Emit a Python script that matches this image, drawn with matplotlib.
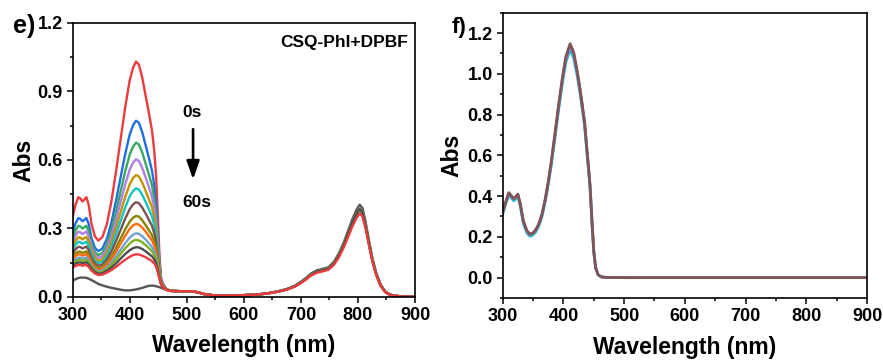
import numpy as np
import matplotlib
matplotlib.use("Agg")
import matplotlib.pyplot as plt
from matplotlib.ticker import MultipleLocator, FormatStrFormatter

plt.rcParams['font.family'] = ['Liberation Sans', 'DejaVu Sans']
plt.rcParams['font.weight'] = 'bold'
plt.rcParams['axes.labelweight'] = 'bold'

# ---------------- panel e: CSQ-PhI + DPBF, irradiation 0-60 s ----------------
wl_head = [300, 305, 310, 314, 317, 320, 324, 328, 333, 339, 345, 352, 360, 368,
           376, 384, 392, 400, 406, 411, 416, 422, 428, 434, 439, 443, 446, 449,
           452, 455, 459, 464, 470]

abs_0s = [0.350, 0.405, 0.437, 0.430, 0.418, 0.425, 0.437, 0.405, 0.320, 0.265, 0.247,
          0.262, 0.320, 0.420, 0.550, 0.690, 0.830, 0.950, 1.005, 1.031, 1.018, 0.960,
          0.880, 0.800, 0.730, 0.640, 0.540, 0.370, 0.190, 0.080, 0.055, 0.036, 0.028]
abs_5s = [0.282, 0.322, 0.346, 0.341, 0.332, 0.337, 0.346, 0.321, 0.257, 0.215, 0.201,
          0.212, 0.255, 0.327, 0.422, 0.524, 0.625, 0.712, 0.753, 0.772, 0.763, 0.721,
          0.663, 0.605, 0.554, 0.489, 0.416, 0.290, 0.156, 0.072, 0.050, 0.035, 0.028]
abs_10s = [0.257, 0.292, 0.312, 0.308, 0.300, 0.305, 0.312, 0.290, 0.234, 0.197, 0.183,
           0.193, 0.230, 0.293, 0.374, 0.462, 0.549, 0.624, 0.659, 0.676, 0.668, 0.632,
           0.583, 0.533, 0.489, 0.432, 0.369, 0.261, 0.144, 0.069, 0.049, 0.034, 0.028]
abs_15s = [0.237, 0.269, 0.286, 0.283, 0.276, 0.280, 0.287, 0.267, 0.217, 0.183, 0.170,
           0.179, 0.212, 0.267, 0.338, 0.415, 0.492, 0.558, 0.589, 0.603, 0.596, 0.565,
           0.522, 0.478, 0.439, 0.390, 0.335, 0.238, 0.134, 0.067, 0.048, 0.034, 0.028]
abs_20s = [0.219, 0.247, 0.262, 0.259, 0.252, 0.257, 0.263, 0.244, 0.200, 0.170, 0.158,
           0.165, 0.195, 0.242, 0.304, 0.371, 0.437, 0.494, 0.521, 0.534, 0.528, 0.501,
           0.464, 0.426, 0.393, 0.350, 0.301, 0.217, 0.125, 0.065, 0.047, 0.034, 0.028]
abs_25s = [0.204, 0.228, 0.242, 0.239, 0.233, 0.237, 0.242, 0.225, 0.186, 0.158, 0.148,
           0.154, 0.180, 0.221, 0.275, 0.333, 0.391, 0.441, 0.465, 0.476, 0.471, 0.447,
           0.415, 0.382, 0.353, 0.316, 0.274, 0.199, 0.118, 0.064, 0.046, 0.033, 0.028]
abs_30s = [0.188, 0.209, 0.220, 0.218, 0.213, 0.216, 0.221, 0.206, 0.171, 0.147, 0.137,
           0.142, 0.165, 0.200, 0.245, 0.294, 0.343, 0.385, 0.406, 0.415, 0.411, 0.391,
           0.365, 0.336, 0.312, 0.280, 0.244, 0.180, 0.110, 0.062, 0.045, 0.033, 0.028]
abs_35s = [0.172, 0.190, 0.199, 0.198, 0.193, 0.196, 0.200, 0.186, 0.157, 0.135, 0.126,
           0.131, 0.149, 0.178, 0.215, 0.256, 0.296, 0.330, 0.347, 0.355, 0.352, 0.336,
           0.314, 0.291, 0.271, 0.245, 0.216, 0.162, 0.102, 0.060, 0.044, 0.033, 0.027]
abs_40s = [0.163, 0.179, 0.187, 0.186, 0.181, 0.184, 0.188, 0.175, 0.148, 0.129, 0.120,
           0.124, 0.141, 0.166, 0.198, 0.234, 0.268, 0.298, 0.314, 0.320, 0.317, 0.304,
           0.286, 0.265, 0.248, 0.225, 0.199, 0.151, 0.097, 0.059, 0.043, 0.033, 0.027]
abs_45s = [0.152, 0.165, 0.172, 0.172, 0.168, 0.170, 0.173, 0.162, 0.138, 0.121, 0.112,
           0.116, 0.130, 0.151, 0.178, 0.207, 0.236, 0.260, 0.273, 0.279, 0.277, 0.266,
           0.251, 0.234, 0.219, 0.201, 0.179, 0.138, 0.092, 0.058, 0.042, 0.032, 0.027]
abs_50s = [0.145, 0.156, 0.162, 0.162, 0.158, 0.160, 0.163, 0.152, 0.131, 0.115, 0.107,
           0.110, 0.123, 0.141, 0.163, 0.189, 0.213, 0.234, 0.246, 0.250, 0.248, 0.239,
           0.227, 0.213, 0.200, 0.184, 0.165, 0.130, 0.088, 0.057, 0.041, 0.032, 0.027]
abs_55s = [0.136, 0.146, 0.151, 0.151, 0.147, 0.150, 0.152, 0.142, 0.124, 0.109, 0.102,
           0.104, 0.115, 0.129, 0.147, 0.168, 0.188, 0.205, 0.214, 0.218, 0.217, 0.210,
           0.200, 0.188, 0.178, 0.165, 0.150, 0.120, 0.084, 0.056, 0.041, 0.032, 0.027]
abs_60s = [0.128, 0.136, 0.140, 0.140, 0.137, 0.139, 0.141, 0.132, 0.116, 0.103, 0.096,
           0.098, 0.107, 0.118, 0.132, 0.148, 0.163, 0.176, 0.184, 0.187, 0.186, 0.181,
           0.174, 0.165, 0.157, 0.147, 0.135, 0.110, 0.080, 0.055, 0.040, 0.032, 0.027]
abs_csq = [0.070, 0.078, 0.083, 0.085, 0.085, 0.085, 0.084, 0.080, 0.074, 0.066, 0.057,
           0.051, 0.045, 0.040, 0.036, 0.032, 0.029, 0.029, 0.031, 0.033, 0.036, 0.040,
           0.045, 0.049, 0.050, 0.049, 0.047, 0.045, 0.043, 0.040, 0.036, 0.032, 0.027]

# NIR part of the spectra (480-900 nm), nearly identical for all traces
wl_tail = [480, 495, 510, 520, 530, 545, 560, 580, 600, 620, 640, 660, 675, 690, 705,
           718, 728, 738, 748, 758, 766, 774, 782, 790, 797, 803, 808, 813, 819, 825,
           832, 840, 848, 856, 865, 880, 900]
tail_mid = [0.026, 0.025, 0.025, 0.020, 0.013, 0.008, 0.007, 0.007, 0.008, 0.010, 0.015,
            0.024, 0.033, 0.048, 0.072, 0.098, 0.111, 0.117, 0.124, 0.148, 0.180, 0.222,
            0.272, 0.325, 0.362, 0.385, 0.370, 0.318, 0.240, 0.165, 0.100, 0.050, 0.022,
            0.010, 0.005, 0.002, 0.001]
tail_60s = [0.026, 0.025, 0.025, 0.020, 0.013, 0.008, 0.007, 0.007, 0.008, 0.010, 0.015,
            0.023, 0.032, 0.046, 0.069, 0.094, 0.106, 0.112, 0.119, 0.141, 0.171, 0.211,
            0.258, 0.308, 0.344, 0.366, 0.352, 0.303, 0.229, 0.158, 0.096, 0.048, 0.021,
            0.010, 0.005, 0.002, 0.001]
tail_csq = [0.026, 0.025, 0.025, 0.020, 0.013, 0.008, 0.007, 0.007, 0.008, 0.010, 0.016,
            0.025, 0.035, 0.050, 0.076, 0.103, 0.117, 0.123, 0.130, 0.155, 0.189, 0.232,
            0.285, 0.340, 0.380, 0.404, 0.389, 0.334, 0.252, 0.173, 0.105, 0.053, 0.023,
            0.011, 0.005, 0.002, 0.001]

series_e = [abs_0s, abs_5s, abs_10s, abs_15s, abs_20s, abs_25s, abs_30s,
            abs_35s, abs_40s, abs_45s, abs_50s, abs_55s, abs_60s]
colors_e = ['#ec3b3f', '#1f6fe0', '#36a862', '#b07ee6', '#c29400', '#12c4c4',
            '#7d5151', '#858600', '#ff6a10', '#6fa2d8', '#7cb31c', '#4d4d4d', '#ec3b3f']

# ---------------- panel f: control ----------------
wl_f = [300, 305, 310, 314, 318, 321, 325, 329, 334, 340, 345, 350, 355, 360, 365, 370,
        375, 380, 386, 392, 398, 404, 411, 417, 423, 427, 431, 435, 439, 442, 444, 447,
        450, 453, 457, 462, 470, 500, 600, 700, 800, 900]
abs_f_a = [0.312, 0.362, 0.405, 0.392, 0.377, 0.385, 0.398, 0.350, 0.266, 0.218, 0.203,
           0.209, 0.227, 0.257, 0.304, 0.372, 0.456, 0.553, 0.685, 0.822, 0.948, 1.056,
           1.118, 1.077, 0.985, 0.912, 0.830, 0.742, 0.605, 0.507, 0.434, 0.272, 0.126,
           0.048, 0.014, 0.004, 0.001, 0.0, 0.0, 0.0, 0.0, 0.0]
abs_f_b = [0.318, 0.369, 0.413, 0.400, 0.385, 0.393, 0.406, 0.358, 0.274, 0.226, 0.210,
           0.216, 0.234, 0.264, 0.311, 0.380, 0.465, 0.563, 0.697, 0.835, 0.964, 1.073,
           1.136, 1.094, 1.000, 0.925, 0.842, 0.752, 0.613, 0.514, 0.440, 0.276, 0.128,
           0.049, 0.015, 0.004, 0.001, 0.0, 0.0, 0.0, 0.0, 0.0]
abs_f_c = [0.320, 0.372, 0.417, 0.403, 0.388, 0.396, 0.410, 0.362, 0.278, 0.230, 0.214,
           0.220, 0.238, 0.268, 0.315, 0.385, 0.470, 0.570, 0.705, 0.845, 0.975, 1.085,
           1.148, 1.105, 1.010, 0.934, 0.850, 0.760, 0.620, 0.520, 0.445, 0.280, 0.130,
           0.050, 0.015, 0.004, 0.001, 0.0, 0.0, 0.0, 0.0, 0.0]
series_f = [abs_f_a, abs_f_b, abs_f_c]
colors_f = ['#1cc4c4', '#8f6fd0', '#7f5656']

x_ticks = [300, 400, 500, 600, 700, 800, 900]

fig = plt.figure(figsize=(8.83, 3.61), dpi=100)
ax1 = fig.add_axes([0.0823, 0.1773, 0.3877, 0.7590])
ax2 = fig.add_axes([0.5693, 0.1745, 0.4126, 0.7903])


def style_axes(ax, ymajor, yminor):
    ax.set_xlim(300, 900)
    ax.set_xticks(x_ticks)
    ax.xaxis.set_minor_locator(MultipleLocator(50))
    ax.yaxis.set_major_locator(MultipleLocator(ymajor))
    ax.yaxis.set_minor_locator(MultipleLocator(yminor))
    ax.yaxis.set_major_formatter(FormatStrFormatter('%.1f'))
    ax.tick_params(which='major', direction='out', length=4.2, width=1.1,
                   labelsize=13, pad=3)
    ax.tick_params(which='minor', direction='out', length=2.2, width=1.1)
    for sp in ax.spines.values():
        sp.set_linewidth(1.2)
    for lab in ax.get_xticklabels() + ax.get_yticklabels():
        lab.set_fontweight('bold')


# panel e
ax1.plot(wl_head + wl_tail, abs_csq + tail_csq, color='#555555', lw=1.7)
for i, (vals, col) in enumerate(zip(series_e, colors_e)):
    tail = tail_60s if i == len(series_e) - 1 else tail_mid
    ax1.plot(wl_head + wl_tail, vals + tail, color=col, lw=1.7)
ax1.set_ylim(0, 1.2)
style_axes(ax1, 0.3, 0.15)
ax1.set_xlabel('Wavelength (nm)', fontsize=16.5, fontweight='bold')
ax1.set_ylabel('Abs', fontsize=16.5, fontweight='bold')
ax1.xaxis.set_label_coords(0.5, -0.135)
ax1.yaxis.set_label_coords(-0.108, 0.5)
ax1.text(888, 1.114, 'CSQ-PhI+DPBF', ha='right', va='center', fontsize=12.5,
         fontweight='bold')
ax1.text(493, 0.806, '0s', ha='left', va='center', fontsize=12.5, fontweight='bold')
ax1.text(493, 0.416, '60s', ha='left', va='center', fontsize=12.5, fontweight='bold')
ax1.annotate('', xy=(511, 0.515), xytext=(511, 0.735),
             arrowprops=dict(arrowstyle='-|>,head_length=1.0,head_width=0.35',
                             mutation_scale=11, lw=1.9, color='black',
                             shrinkA=0, shrinkB=0))

# panel f
for vals, col in zip(series_f, colors_f):
    ax2.plot(wl_f, vals, color=col, lw=2.0)
ax2.set_ylim(-0.1, 1.3)
style_axes(ax2, 0.2, 0.1)
ax2.set_xlabel('Wavelength (nm)', fontsize=16.5, fontweight='bold')
ax2.set_ylabel('Abs', fontsize=16.5, fontweight='bold')
ax2.xaxis.set_label_coords(0.5, -0.132)
ax2.yaxis.set_label_coords(-0.108, 0.5)

fig.text(12.5 / 883, 1 - 33 / 361, 'e)', fontsize=18, fontweight='bold',
         ha='left', va='baseline')
fig.text(452 / 883, 1 - 33 / 361, 'f)', fontsize=16, fontweight='bold',
         ha='left', va='baseline')

fig.savefig('out.png', dpi=100)
